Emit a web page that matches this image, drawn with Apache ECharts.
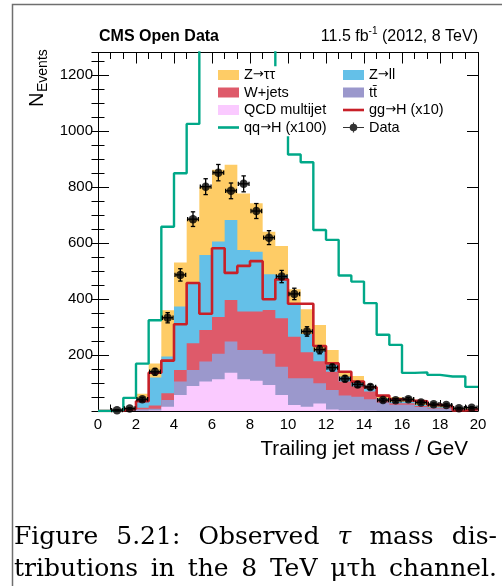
<!DOCTYPE html>
<html>
<head>
<meta charset="utf-8">
<script src="https://cdn.jsdelivr.net/npm/echarts@6/dist/echarts.min.js"></script>
<style>
  html, body { margin: 0; padding: 0; background: #ffffff; }
  #chart { width: 502px; height: 586px; }
</style>
</head>
<body>
<div id="chart"></div>
<script>
// Binning of the trailing jet mass: 30 bins of 2/3 GeV between 0 and 20 GeV
const xMin = 0, xMax = 20, nBins = 30;
const binWidth = (xMax - xMin) / nBins;
const xTickStep = 2;       // GeV between labelled ticks
const yTickStep = 200;     // events between labelled ticks
const yMinorStep = 50;
const yMax = 1280;

// Expected events per bin, stacked from bottom to top
const qcd   = [0, 0, 0, 1, 2, 15, 57, 89, 105, 113, 137, 113, 108, 93, 57, 21, 15, 27, 5, 3, 2, 1, 0, 0, 0, 0, 0, 0, 0, 0];
const ttbar = [0, 0.5, 2, 5, 6, 24, 48, 57, 72, 91, 111, 105, 110, 111, 101, 96, 102, 72, 70, 52, 49, 41, 30, 22, 22, 14, 9, 8, 3, 3];
const wjets = [0, 0.5, 2, 6, 12, 24, 41, 96, 112, 132, 148, 137, 137, 157, 173, 148, 93, 79, 65, 50, 37, 28, 10, 6, 6, 4, 3, 2, 1, 1];
const zll   = [0.5, 1, 4, 33, 100, 132, 227, 218, 268, 269, 286, 220, 214, 127, 155, 114, 65, 37, 32, 17, 15, 11, 5, 5, 5, 3, 3, 3, 2, 2];
const ztt   = [0.5, 1, 4, 17, 50, 165, 157, 226, 244, 256, 197, 202, 173, 152, 103, 56, 88, 92, 46, 18, 22, 8, 12, 16, 12, 12, 9, 6, 4, 3];

// Signal expectations, scaled up for visibility
const ggH10  = [0, 2, 8, 35, 137, 180, 310, 457, 347, 581, 493, 518, 535, 399, 470, 383, 383, 232, 170, 140, 105, 85, 55, 42, 37, 35, 22, 15, 2, 6];
const qqH100 = [0, 3, 47, 169, 324, 658, 849, 1025, 1400, 1550, 1650, 1600, 1480, 1330, 1100, 916, 888, 646, 611, 484, 462, 385, 272, 236, 136, 138, 129, 123, 123, 86];

// Observed events per bin
const observed = [0, 3, 9, 42, 140, 333, 486, 685, 801, 851, 786, 811, 714, 619, 480, 418, 284, 219, 155, 115, 95, 86, 39, 38, 42, 30, 24, 21, 10, 12];

const FONT = 'Liberation Sans, Arial, Helvetica, sans-serif';
const SERIF = 'DejaVu Serif, serif';

const edges = Array.from({ length: nBins + 1 }, (_, i) => xMin + i * binWidth);
const centers = edges.slice(0, nBins).map(e => e + binWidth / 2);

// Histogram outline points: one point per lower bin edge plus the closing edge
function stepData(values) {
  const pts = values.map((v, i) => [edges[i], v]);
  pts.push([edges[nBins], values[nBins - 1]]);
  return pts;
}

const ARROW = '\u2192';
const stackDefs = [
  { name: 'QCD multijet', values: qcd, color: 'rgb(250,202,255)' },
  { name: 't\u0074\u0304', values: ttbar, color: 'rgb(155,152,204)' },
  { name: 'W+jets', values: wjets, color: 'rgb(222,90,106)' },
  { name: 'Z' + ARROW + 'll', values: zll, color: 'rgb(100,192,232)' },
  { name: 'Z' + ARROW + '\u03c4\u03c4', values: ztt, color: 'rgb(254,204,102)' }
];

// Running totals: each layer is painted from zero up to its cumulative height,
// topmost layer first, so neighbouring fills share no anti-aliased seam.
const cumulative = [];
stackDefs.forEach((d, k) => {
  cumulative.push(d.values.map((v, i) => v + (k > 0 ? cumulative[k - 1][i] : 0)));
});

const stackSeries = stackDefs.map((d, k) => ({
  type: 'custom',
  name: d.name,
  data: [[0]],
  color: d.color,
  itemStyle: { color: d.color },
  silent: true,
  z: 2 + (stackDefs.length - k) * 0.01,
  renderItem(params, api) {
    const tops = cumulative[k];
    const pts = [api.coord([edges[0], 0])];
    for (let i = 0; i < nBins; i++) {
      pts.push(api.coord([edges[i], tops[i]]));
      pts.push(api.coord([edges[i + 1], tops[i]]));
    }
    pts.push(api.coord([edges[nBins], 0]));
    return { type: 'polygon', shape: { points: pts }, style: { fill: d.color, stroke: null } };
  }
})).reverse();

const GGH_COLOR = 'rgb(200,32,40)';
const QQH_COLOR = 'rgb(0,168,136)';

const dataPoints = centers
  .map((c, i) => [c, observed[i]])
  .filter(p => p[1] > 0);

const errorSeries = {
  type: 'custom',
  name: 'observed uncertainty',
  data: dataPoints,
  encode: { x: 0, y: 1 },
  z: 5,
  silent: true,
  renderItem(params, api) {
    const c = api.value(0), n = api.value(1);
    const err = Math.sqrt(n);
    const l = api.coord([c - binWidth / 2, n]);
    const r = api.coord([c + binWidth / 2, n]);
    const lo = api.coord([c, Math.max(0, n - err)]);
    const hi = api.coord([c, n + err]);
    const cap = 2.2;
    const st = { stroke: '#000', lineWidth: 1.3 };
    return {
      type: 'group',
      children: [
        { type: 'line', shape: { x1: l[0] + 1, y1: l[1], x2: r[0] - 1, y2: r[1] }, style: st },
        { type: 'line', shape: { x1: lo[0], y1: lo[1], x2: hi[0], y2: hi[1] }, style: st },
        { type: 'line', shape: { x1: lo[0] - cap, y1: lo[1], x2: lo[0] + cap, y2: lo[1] }, style: st },
        { type: 'line', shape: { x1: hi[0] - cap, y1: hi[1], x2: hi[0] + cap, y2: hi[1] }, style: st },
        { type: 'line', shape: { x1: l[0] + 1, y1: l[1] - cap, x2: l[0] + 1, y2: l[1] + cap }, style: st },
        { type: 'line', shape: { x1: r[0] - 1, y1: r[1] - cap, x2: r[0] - 1, y2: r[1] + cap }, style: st }
      ]
    };
  }
};

const axisLineStyle = { lineStyle: { color: '#000', width: 1 } };
const plainNumber = v => String(v);

function xAxisDef(position, showLabels) {
  return {
    type: 'value', position, min: xMin, max: xMax, interval: xTickStep,
    axisLine: { show: true, onZero: false, ...axisLineStyle },
    axisTick: { show: true, inside: true, length: 11, lineStyle: { color: '#000', width: 1 } },
    minorTick: { show: true, splitNumber: 3, length: 6.5, lineStyle: { color: '#000', width: 1 } },
    axisLabel: { show: showLabels, margin: 6, color: '#000', fontSize: 15, fontFamily: FONT, formatter: plainNumber },
    splitLine: { show: false }, minorSplitLine: { show: false }
  };
}

function yAxisDef(position, step, tickLen, showLabels) {
  return {
    type: 'value', position, min: 0, max: yMax, interval: step,
    axisLine: { show: true, onZero: false, ...axisLineStyle },
    axisTick: { show: true, inside: true, length: tickLen, lineStyle: { color: '#000', width: 1 } },
    axisLabel: { show: showLabels, margin: 5, color: '#000', fontSize: 15, fontFamily: FONT,
                 showMaxLabel: false, showMinLabel: false, formatter: plainNumber },
    splitLine: { show: false }
  };
}

const legendCommon = {
  orient: 'vertical',
  top: 66.25,
  itemWidth: 21,
  itemHeight: 10,
  itemGap: 0,
  selectedMode: false,
  backgroundColor: '#ffffff',
  formatter: name => name.split(ARROW).join('{r|' + ARROW + '}'),
  textStyle: {
    color: '#000', fontSize: 14.5, fontFamily: FONT, lineHeight: 17.5,
    rich: { r: { fontFamily: 'DejaVu Sans', fontSize: 13, lineHeight: 17.5, color: '#000' } }
  }
};
const lineIcon = 'path://M0,0H21V2.6H0Z';
const dataIcon = 'path://M0,4.4H21V5.6H0Z M9.9,0H11.1V10H9.9Z M14.3,5A3.8,3.8,0,1,1,6.7,5A3.8,3.8,0,1,1,14.3,5Z';

// Caption, justified between the page margins
const captionLines = [
  { words: ['Figure', '5.21:', 'Observed', '\u03c4', 'mass', 'dis-'], italic: [3], baseline: 550 },
  { words: ['tributions', 'in', 'the', '8', 'TeV', '\u03bc\u03c4h', 'channel.'], italic: [], baseline: 582 }
];
const captionLeft = 14, captionRight = 497, captionSize = 25;
const measureCtx = document.createElement('canvas').getContext('2d');
function captionFont(italic) { return (italic ? 'italic ' : '') + captionSize + 'px ' + SERIF; }
function captionWords(line) {
  const widths = line.words.map((w, i) => {
    measureCtx.font = captionFont(line.italic.includes(i));
    return measureCtx.measureText(w).width;
  });
  const total = widths.reduce((a, b) => a + b, 0);
  const gap = (captionRight - captionLeft - total) / (line.words.length - 1);
  let x = captionLeft;
  return line.words.map((w, i) => {
    const el = {
      type: 'text', x, y: line.baseline,
      style: {
        text: w, fill: '#000', font: captionFont(line.italic.includes(i)),
        align: 'left', textAlign: 'left', verticalAlign: 'bottom', textVerticalAlign: 'bottom'
      }
    };
    x += widths[i] + gap;
    return el;
  });
}

const chart = echarts.init(document.getElementById('chart'), null, { renderer: 'canvas' });
chart.setOption({
  animation: false,
  backgroundColor: '#ffffff',
  grid: { left: 98, right: 24, top: 52.5, bottom: 175, containLabel: false },
  xAxis: [xAxisDef('bottom', true), xAxisDef('top', false)],
  yAxis: [
    yAxisDef('left', yTickStep, 11, true),
    { ...yAxisDef('left', yMinorStep, 6.5, false), axisLine: { show: false } },
    yAxisDef('right', yTickStep, 11, false),
    { ...yAxisDef('right', yMinorStep, 6.5, false), axisLine: { show: false } }
  ],
  legend: [
    {
      ...legendCommon, left: 213, padding: [0, 12, 0, 5],
      data: [
        { name: 'Z' + ARROW + '\u03c4\u03c4', icon: 'rect' },
        { name: 'W+jets', icon: 'rect' },
        { name: 'QCD multijet', icon: 'rect' },
        { name: 'qq' + ARROW + 'H (x100)', icon: lineIcon }
      ]
    },
    {
      ...legendCommon, left: 338, padding: [0, 8, 0, 5],
      data: [
        { name: 'Z' + ARROW + 'll', icon: 'rect' },
        { name: 't\u0074\u0304', icon: 'rect' },
        { name: 'gg' + ARROW + 'H (x10)', icon: lineIcon },
        { name: 'Data', icon: dataIcon }
      ]
    }
  ],
  series: [
    ...stackSeries,
    {
      type: 'line', name: 'gg' + ARROW + 'H (x10)', data: stepData(ggH10), step: 'end',
      symbol: 'none', showSymbol: false, color: GGH_COLOR, itemStyle: { color: GGH_COLOR },
      lineStyle: { color: GGH_COLOR, width: 2.6 }, silent: true, z: 3
    },
    {
      type: 'line', name: 'qq' + ARROW + 'H (x100)', data: stepData(qqH100), step: 'end',
      symbol: 'none', showSymbol: false, color: QQH_COLOR, itemStyle: { color: QQH_COLOR },
      lineStyle: { color: QQH_COLOR, width: 2.4 }, silent: true, z: 3, clip: true
    },
    errorSeries,
    {
      type: 'scatter', name: 'Data', data: dataPoints, symbol: 'circle', symbolSize: 8.5,
      color: '#000', itemStyle: { color: '#000' }, silent: true, z: 6
    }
  ],
  graphic: [
    // page frame
    { type: 'polyline', shape: { points: [[12.5, 586], [12.5, 4.5], [502, 4.5]] },
      style: { stroke: '#6f6f6f', lineWidth: 1.5, fill: null }, silent: true },
    // header
    { type: 'text', x: 99, y: 44.5,
      style: { text: 'CMS Open Data', fill: '#000', font: 'bold 16px ' + FONT,
               align: 'left', textAlign: 'left', verticalAlign: 'bottom', textVerticalAlign: 'bottom' } },
    { type: 'text', x: 478, y: 44.5,
      style: {
        text: '{a|11.5 fb}{s|-1}{a| (2012, 8 TeV)}', fill: '#000',
        align: 'right', textAlign: 'right', verticalAlign: 'bottom', textVerticalAlign: 'bottom',
        rich: {
          a: { fontSize: 16, fontFamily: FONT, fill: '#000', verticalAlign: 'bottom', lineHeight: 18 },
          s: { fontSize: 10, fontFamily: FONT, fill: '#000', verticalAlign: 'top', lineHeight: 18 }
        }
      } },
    // axis titles
    { type: 'text', x: 468, y: 449,
      style: { text: 'Trailing jet mass / GeV', fill: '#000', font: '20.6px ' + FONT,
               align: 'right', textAlign: 'right', verticalAlign: 'middle', textVerticalAlign: 'middle' } },
    { type: 'text', x: 47, y: 107, rotation: Math.PI / 2,
      style: { text: 'N', fill: '#000', font: '20px ' + FONT,
               align: 'left', textAlign: 'left', verticalAlign: 'bottom', textVerticalAlign: 'bottom' } },
    { type: 'text', x: 50, y: 92, rotation: Math.PI / 2,
      style: { text: 'Events', fill: '#000', font: '14px ' + FONT,
               align: 'left', textAlign: 'left', verticalAlign: 'bottom', textVerticalAlign: 'bottom' } },
    // caption
    ...captionLines.flatMap(captionWords)
  ]
});
</script>
</body>
</html>
